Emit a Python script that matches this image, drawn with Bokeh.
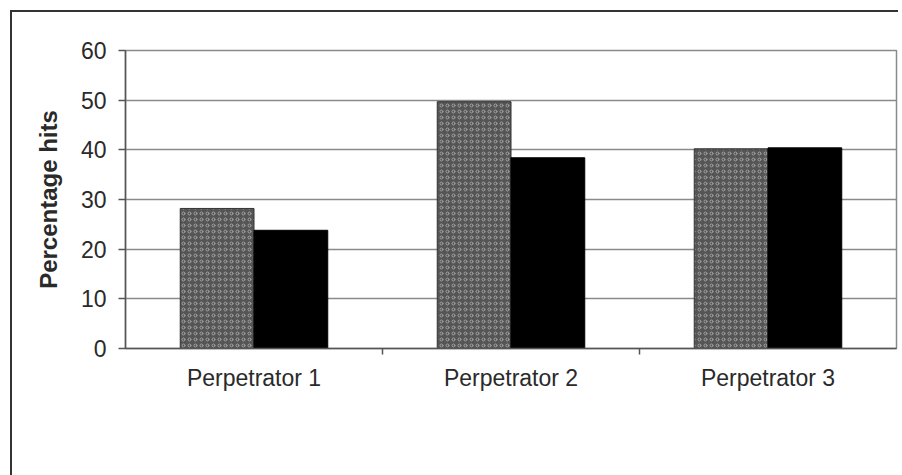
from bokeh.plotting import figure
from bokeh.models import (ColumnDataSource, FactorRange, Range1d,
                          CategoricalAxis, FixedTicker, Legend, LegendItem)
from bokeh.transform import dodge
from bokeh.embed import file_html
from bokeh.resources import INLINE

# ---- data ----
categories = ["Perpetrator 1", "Perpetrator 2", "Perpetrator 3"]
female_hits = [28.2, 49.7, 40.2]
male_hits = [23.8, 38.4, 40.4]
y_ticks = [0, 10, 20, 30, 40, 50, 60]
series_names = ["Average hits female", "Average hits male"]

FONT = "Liberation Sans"
TXT = "#2a2a2a"

src = ColumnDataSource(dict(cat=categories, female=female_hits, male=male_hits))

p = figure(frame_width=771, frame_height=298, x_range=FactorRange(*categories),
           y_range=Range1d(0, 60), output_backend="svg", toolbar_location=None,
           x_axis_location=None, min_border_left=113, min_border_top=38,
           min_border_right=2, min_border_bottom=0)
p.styles = {"border-top": "2px solid #333", "border-left": "2px solid #333",
            "margin-left": "10px", "margin-top": "10px"}
p.background_fill_color = "white"
p.border_fill_color = "white"
p.outline_line_color = "#8a8a8a"
p.outline_line_width = 1.5

# bars
bw = 0.287
rf = p.vbar(x=dodge("cat", -bw / 2, range=p.x_range), top="female", width=bw,
            source=src, fill_color="#555555", line_color="#333333", line_width=1,
            hatch_pattern="ring", hatch_color="#a0a0a0", hatch_scale=6,
            hatch_weight=1)
rm = p.vbar(x=dodge("cat", bw / 2, range=p.x_range), top="male", width=bw,
            source=src, fill_color="black", line_color="black", line_width=1)

# y axis
ya = p.yaxis[0]
ya.ticker = FixedTicker(ticks=y_ticks)
ya.axis_label = "Percentage hits"
ya.axis_label_text_font = FONT
ya.axis_label_text_font_size = "24px"
ya.axis_label_text_font_style = "bold"
ya.axis_label_text_color = TXT
ya.axis_label_standoff = 16
ya.major_label_text_font = FONT
ya.major_label_text_font_size = "23px"
ya.major_label_text_color = TXT
ya.major_label_standoff = 12
ya.major_tick_out = 7
ya.major_tick_in = 0
ya.minor_tick_line_color = None
ya.axis_line_color = "#555555"
ya.axis_line_width = 1.5
ya.major_tick_line_color = "#555555"
ya.major_tick_line_width = 1.5

p.ygrid.ticker = FixedTicker(ticks=y_ticks)
p.ygrid.grid_line_color = "#8a8a8a"
p.ygrid.grid_line_width = 1.5
p.xgrid.grid_line_color = None

# boundary ticks axis (ticks between categories): factor centres on the edges
bounds = [f"b{i}" for i in range(len(categories) + 1)]
p.extra_x_ranges = {"bounds": FactorRange(factors=bounds, range_padding=-0.5,
                                          range_padding_units="absolute")}
tick_axis = CategoricalAxis(x_range_name="bounds",
                            major_label_text_font_size="0px",
                            major_label_text_color=None, major_label_standoff=0,
                            major_tick_out=6, major_tick_in=0,
                            axis_line_color="#555555", axis_line_width=1.5,
                            major_tick_line_color="#555555",
                            major_tick_line_width=1.5)
p.add_layout(tick_axis, "below")

# category labels
cat_axis = CategoricalAxis(axis_line_color=None, major_tick_line_color=None,
                           major_label_text_font=FONT,
                           major_label_text_font_size="23px",
                           major_label_text_color=TXT, major_label_standoff=4)
p.add_layout(cat_axis, "below")

legend = Legend(items=[LegendItem(label=series_names[0], renderers=[rf]),
                       LegendItem(label=series_names[1], renderers=[rm])],
                orientation="horizontal", location="top_center",
                label_text_font=FONT, label_text_font_size="24px",
                label_text_color=TXT, glyph_width=13, glyph_height=13,
                label_standoff=6, spacing=20, padding=6, margin=42,
                border_line_color="#333333", border_line_width=1.5,
                background_fill_color="white", background_fill_alpha=1)
p.add_layout(legend, "below")

open("out.html", "w").write(file_html(p, INLINE))
